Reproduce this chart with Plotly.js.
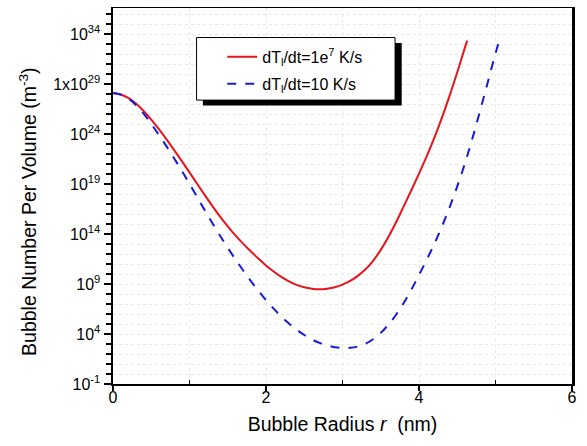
<!DOCTYPE html>
<html>
<head>
<meta charset="utf-8">
<script src="https://cdn.plot.ly/plotly-3.0.1.min.js"></script>
<style>html,body{margin:0;padding:0;background:#fff;}#chart{width:587px;height:446px;}</style>
</head>
<body>
<div id="chart"></div>
<script>
// Bubble radius r (nm), dT/dt = 1e7 K/s
const xFast = [0, 0.1, 0.2, 0.3, 0.4, 0.5, 0.6, 0.7, 0.8, 0.9, 1.0, 1.1, 1.2, 1.3, 1.4, 1.5, 1.6, 1.7, 1.8, 1.9, 2.0,
               2.1, 2.2, 2.3, 2.4, 2.5, 2.6, 2.7, 2.8, 2.9, 3.0, 3.1, 3.2, 3.3, 3.4, 3.5, 3.6, 3.7, 3.8, 3.9, 4.0,
               4.1, 4.2, 4.3, 4.4, 4.5, 4.6, 4.63];
// Bubble number per volume (m^-3), dT/dt = 1e7 K/s
const yFast = [1.26e28, 8.9e27, 4.0e27, 1.12e27, 2.0e26, 2.7e25, 3.0e24, 2.9e23, 2.45e22, 1.95e21, 1.45e20,
               1.05e19, 7.8e17, 6.2e16, 5.5e15, 5.75e14, 7.2e13, 1.1e13, 1.86e12, 3.5e11, 7.2e10,
               1.78e10, 5.1e9, 1.82e9, 8.1e8, 4.7e8, 3.4e8, 3.0e8, 3.4e8, 4.8e8, 8.7e8,
               2.0e9, 6.5e9, 2.95e10, 2.1e11, 2.6e12, 5.1e13, 1.5e15, 5.75e16, 2.4e18, 1.1e20,
               5.75e21, 4.1e23, 4.3e25, 6.8e27, 1.5e30, 4.3e32, 2.2e33];

// Bubble radius r (nm), dT/dt = 10 K/s
const xSlow = [0, 0.1, 0.2, 0.3, 0.4, 0.5, 0.6, 0.7, 0.8, 0.9, 1.0, 1.1, 1.2, 1.3, 1.4, 1.5, 1.6, 1.7, 1.8, 1.9, 2.0,
               2.1, 2.2, 2.3, 2.4, 2.5, 2.6, 2.7, 2.8, 2.9, 3.0, 3.1, 3.2, 3.3, 3.4, 3.5, 3.6, 3.7, 3.8, 3.9, 4.0,
               4.1, 4.2, 4.3, 4.4, 4.5, 4.6, 4.7, 4.8, 4.9, 5.0, 5.06];
// Bubble number per volume (m^-3), dT/dt = 10 K/s
const ySlow = [1.26e28, 8.9e27, 3.55e27, 7.9e26, 1.07e26, 1.02e25, 8.1e23, 5.75e22, 3.6e21, 2.04e20, 1.02e19,
               4.9e17, 2.35e16, 1.17e15, 6.6e13, 4.2e12, 2.95e11, 2.35e10, 2.1e9, 2.1e8, 2.45e7,
               3.4e6, 5.6e5, 1.12e5, 2.7e4, 7.9e3, 2.9e3, 1.29e3, 7.1e2, 4.8e2, 4.0e2,
               4.2e2, 5.6e2, 1.07e3, 3.0e3, 1.29e4, 8.5e4, 8.5e5, 1.26e7, 2.7e8, 8.1e9,
               2.6e11, 1.02e13, 5.75e14, 4.6e16, 5.75e18, 1.15e21, 4.1e23, 2.3e26, 1.62e29, 1.15e32, 4.0e33];

const seriesNames = ["dT<sub>l</sub>/dt=1e<sup>7</sup> K/s", "dT<sub>l</sub>/dt=10 K/s"];
const yTickVals = [1e-1, 1e4, 1e9, 1e14, 1e19, 1e24, 1e29, 1e34];
const yTickText = ["10<sup>-1</sup>", "10<sup>4</sup>", "10<sup>9</sup>", "10<sup>14</sup>", "10<sup>19</sup>", "10<sup>24</sup>", "1x10<sup>29</sup>", "10<sup>34</sup>"];
const yMinorVals = [1e0, 1e1, 1e2, 1e3, 1e5, 1e6, 1e7, 1e8, 1e10, 1e11, 1e12, 1e13, 1e15, 1e16, 1e17, 1e18,
                    1e20, 1e21, 1e22, 1e23, 1e25, 1e26, 1e27, 1e28, 1e30, 1e31, 1e32, 1e33, 1e35, 1e36];
const xTickVals = [0, 2, 4, 6];
const xTickText = ["0", "2", "4", "6"];
const xMinorVals = [1, 3, 5];
const xTitle = "Bubble Radius <i>r</i>\u00a0 (nm)";
const yTitle = "Bubble Number Per Volume (m<sup>-3</sup>)";

const font = "Liberation Sans, Arial, sans-serif";
const gridColor = "#dfeedf";

const traces = [
  {x: xFast, y: yFast, name: seriesNames[0], legendgroup: "a", mode: "lines", type: "scatter",
   line: {color: "#e8141c", width: 2, shape: "spline", smoothing: 1}},
  {x: xSlow, y: ySlow, name: seriesNames[1], legendgroup: "b", mode: "lines", type: "scatter",
   line: {color: "#1a1ad6", width: 2, dash: "dash", shape: "spline", smoothing: 1}}
];

const layout = {
  width: 587, height: 446,
  margin: {l: 113, r: 15, t: 8, b: 62},
  paper_bgcolor: "#fff", plot_bgcolor: "#fff",
  font: {family: font, size: 16, color: "#000"},
  showlegend: true,
  legend: {x: 0.238, y: 0.915, xanchor: "left", yanchor: "top",
           bgcolor: "rgba(0,0,0,0)", borderwidth: 0,
           font: {family: font, size: 16, color: "#000"},
           traceorder: "grouped", tracegroupgap: 3},
  xaxis: {
    range: [0, 6], tickmode: "array", tickvals: xTickVals, ticktext: xTickText,
    ticks: "outside", ticklen: 5, tickwidth: 1.5, tickcolor: "#000", ticklabelstandoff: -7,
    showline: true, linecolor: "#000", linewidth: 1.5, mirror: true,
    showgrid: true, gridcolor: gridColor, griddash: "dot", gridwidth: 1,
    zeroline: false,
    minor: {tickmode: "array", tickvals: xMinorVals, ticks: "inside", ticklen: 4, tickcolor: "#000", tickwidth: 1.5,
            showgrid: true, gridcolor: gridColor, griddash: "dot", gridwidth: 1},
    tickfont: {family: font, size: 16},
    title: {text: xTitle, font: {family: font, size: 19.5}, standoff: 12}
  },
  yaxis: {
    type: "log", range: [-1, 36.6], tickmode: "array", tickvals: yTickVals, ticktext: yTickText,
    ticks: "outside", ticklen: 7, tickwidth: 2, tickcolor: "#000",
    showline: true, linecolor: "#000", linewidth: 2.5, mirror: true,
    showgrid: true, gridcolor: gridColor, griddash: "dot", gridwidth: 1,
    zeroline: false,
    minor: {tickmode: "array", tickvals: yMinorVals, ticks: "outside", ticklen: 5, tickcolor: "#000", tickwidth: 1.5,
            showgrid: true, gridcolor: gridColor, griddash: "dot", gridwidth: 1},
    tickfont: {family: font, size: 16}
  },
  annotations: [
    {text: yTitle, xref: "paper", yref: "paper", x: -0.184, y: 0.459, xanchor: "center", yanchor: "middle",
     textangle: -90, showarrow: false, font: {family: font, size: 19.5}}
  ],
  shapes: [
    // legend drop shadow
    {type: "rect", xref: "paper", yref: "paper", x0: 0.1957, x1: 0.629, y0: 0.7407, y1: 0.907,
     fillcolor: "#000", line: {width: 0}, layer: "above"},
    // legend box
    {type: "rect", xref: "paper", yref: "paper", x0: 0.182, x1: 0.6145, y0: 0.755, y1: 0.9215,
     fillcolor: "#fff", line: {color: "#000", width: 1}, layer: "above"}
  ]
};

Plotly.newPlot("chart", traces, layout, {displayModeBar: false, staticPlot: true});
</script>
</body>
</html>
